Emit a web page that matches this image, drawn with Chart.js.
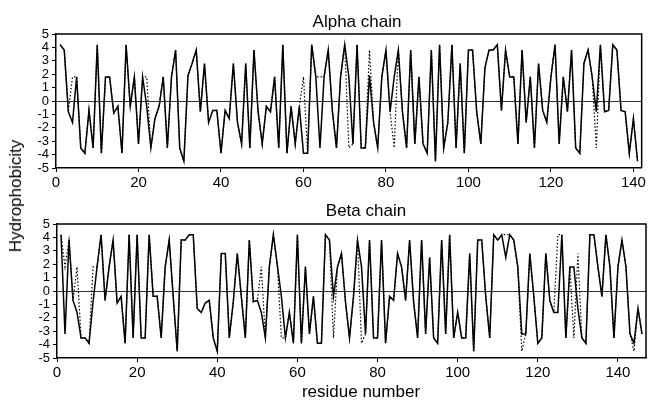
<!DOCTYPE html>
<html>
<head>
<meta charset="utf-8">
<script src="https://cdn.jsdelivr.net/npm/chart.js@4/dist/chart.umd.min.js"></script>
<style>
  html, body { margin: 0; padding: 0; background: #fff; }
  #wrap { position: relative; width: 648px; height: 402px; overflow: hidden; font-family: "Liberation Sans", Arial, sans-serif; color: #000; }
  canvas { position: absolute; left: 0; }
  .lbl { position: absolute; font-size: 17px; white-space: nowrap; transform: translate(-50%, -50%); }
  #ytitle { transform: translate(-50%, -50%) rotate(-90deg); }
</style>
</head>
<body>
<div id="wrap">
  <canvas id="alphaChart" width="648" height="195" style="top:0"></canvas>
  <canvas id="betaChart" width="648" height="207" style="top:195px"></canvas>
  <div class="lbl" style="left:357px; top:22px">Alpha chain</div>
  <div class="lbl" style="left:366px; top:211px">Beta chain</div>
  <div class="lbl" id="ytitle" style="left:16px; top:196px">Hydrophobicity</div>
  <div class="lbl" style="left:361px; top:392px">residue number</div>
</div>
<script>
'use strict';

// hydrophobicity per residue (solid line)
const ALPHA_SOLID = [
  4.2, 3.8, -0.8, -1.6, 1.8, -3.5, -3.9, -0.7, -3.5, 4.2,
  -3.9, 1.8, 1.8, -0.9, -0.4, -3.9, 4.2, -0.4, 1.8, -3.2,
  1.8, -0.4, -3.5, -1.3, -0.4, 1.8, -3.5, 1.8, 3.8, -3.5,
  -4.5, 1.9, 2.8, 3.8, -0.8, 2.8, -1.6, -0.7, -0.7, -3.9,
  -0.7, -1.3, 2.8, -1.6, -3.2, 2.8, -3.5, 3.8, -0.8, -3.2,
  -0.4, -0.8, 1.8, -3.5, 4.2, -3.9, -0.4, -3.2, -0.4, -3.9,
  -3.9, 4.2, 1.8, -3.5, 1.8, 3.8, -0.7, -3.5, 1.8, 4.2,
  1.8, -3.2, 4.2, -3.5, -3.5, 1.9, -1.6, -3.5, 1.8, 3.8,
  -0.8, 1.8, 3.8, -0.8, -3.5, 3.8, -3.2, 1.8, -3.2, -3.9,
  3.8, -4.5, 4.2, -3.5, -1.6, 4.2, -3.5, 2.8, -3.9, 3.8,
  3.8, -0.8, -3.2, 2.5, 3.8, 3.8, 4.2, -0.7, 3.8, 1.8,
  1.8, -3.2, 3.8, -1.6, 1.8, -3.5, 2.8, -0.7, -1.6, 1.8,
  4.2, -3.2, 1.8, -0.8, 3.8, -3.5, -3.9, 2.8, 3.8, 1.8,
  -0.8, 4.2, -0.8, -0.7, 4.2, 3.8, -0.7, -0.8, -3.9, -1.3,
  -4.5
];

const BETA_SOLID = [
  4.2, -3.2, 3.8, -0.7, -1.6, -3.5, -3.5, -3.9, -0.8, 1.8,
  4.2, -0.7, 1.8, 3.8, -0.9, -0.4, -3.9, 4.2, -3.5, 4.2,
  -3.5, -3.5, 4.2, -0.4, -0.4, -3.5, 1.8, 3.8, -0.4, -4.5,
  3.8, 3.8, 4.2, 4.2, -1.3, -1.6, -0.9, -0.7, -3.5, -4.5,
  2.8, 2.8, -3.5, -0.8, 2.8, -0.4, -3.5, 3.8, -0.8, -0.7,
  -1.6, -3.5, 1.8, 4.2, 1.9, -0.4, -3.5, -1.6, -3.9, 4.2,
  -3.9, 1.8, -3.2, -0.4, -3.9, -3.9, 4.2, 3.8, -0.4, 1.8,
  2.8, -0.8, -3.5, -0.4, 3.8, 1.8, -3.2, 3.8, -3.5, -3.5,
  3.8, -3.9, -0.4, -0.7, 2.8, 1.8, -0.7, 3.8, -0.8, -3.5,
  3.8, -3.2, 2.5, -3.5, -3.9, 3.8, -3.2, 4.2, -3.5, -1.6,
  -3.5, -3.5, 2.8, -4.5, 3.8, 3.8, -0.4, -3.5, 4.2, 3.8,
  4.2, 2.5, 4.2, 3.8, 1.8, -3.2, -3.2, 2.8, -0.4, -3.9,
  -3.5, 2.8, -0.7, -1.6, -1.6, 4.2, -3.5, 1.8, 1.8, -1.3,
  -3.5, -3.9, 4.2, 4.2, 1.8, -0.4, 4.2, 1.8, -3.5, 1.8,
  3.8, 1.8, -3.2, -3.9, -1.3, -3.2
];

// residues where the dotted line differs, and its values there
const ALPHA_DIFF_POS = [4, 22, 60, 64, 71, 76, 82, 131];
const ALPHA_DIFF_VAL = [1.8, 1.8, 1.8, 1.8, -3.5, 3.8, -3.5, -3.5];
const BETA_DIFF_POS = [2, 5, 9, 51, 56, 69, 76, 112, 116, 125, 129, 130, 144];
const BETA_DIFF_VAL = [1.8, 1.8, 1.8, 1.8, -3.5, -3.5, -3.9, 4.2, -4.5, 4.2, -3.5, 2.8, -4.5];

const X_TICKS = [0, 20, 40, 60, 80, 100, 120, 140];
const Y_TICKS = [5, 4, 3, 2, 1, 0, -1, -2, -3, -4, -5];

const FONT = '"Liberation Sans", Arial, sans-serif';

function toPoints(vals) {
  return vals.map((v, i) => ({ x: i + 1, y: v }));
}

function withDiffs(vals, pos, diff) {
  const out = vals.slice();
  pos.forEach((p, i) => { out[p - 1] = diff[i]; });
  return out;
}

/* top and right edges of the plot box */
const frame = {
  id: 'frame',
  afterDraw(chart) {
    const a = chart.chartArea;
    const ctx = chart.ctx;
    ctx.save();
    ctx.strokeStyle = '#000';
    ctx.lineWidth = 1.5;
    ctx.beginPath();
    ctx.moveTo(a.left, a.top);
    ctx.lineTo(a.right, a.top);
    ctx.lineTo(a.right, a.bottom);
    ctx.stroke();
    ctx.restore();
  }
};

function makeChart(id, solid, pos, diff, opt) {
  return new Chart(document.getElementById(id), {
    type: 'line',
    data: {
      datasets: [
        { data: toPoints(solid), borderColor: '#000', borderWidth: 1.5 },
        { data: toPoints(withDiffs(solid, pos, diff)), borderColor: '#000', borderWidth: 1.2, borderDash: [1.5, 2] },
      ],
    },
    options: {
      responsive: false,
      animation: false,
      devicePixelRatio: 1,
      layout: { padding: { top: opt.top, right: opt.right, left: 0, bottom: 0 } },
      elements: { point: { radius: 0 }, line: { tension: 0 } },
      plugins: { legend: { display: false }, tooltip: { enabled: false } },
      scales: {
        x: {
          type: 'linear', min: 0, max: opt.xmax,
          afterFit: s => { s.height = opt.xh; },
          afterBuildTicks: s => { s.ticks = X_TICKS.map(v => ({ value: v })); },
          grid: { drawOnChartArea: false, tickLength: 4, tickColor: '#000' },
          border: { color: '#000', width: 1.5 },
          ticks: { color: '#000', padding: 2, maxRotation: 0, autoSkip: false, font: { family: FONT, size: 15 } },
        },
        y: {
          min: -5, max: 5,
          afterFit: s => { s.width = opt.yw; },
          afterBuildTicks: s => { s.ticks = Y_TICKS.map(v => ({ value: v })); },
          grid: {
            color: c => (c.tick && c.tick.value === 0 ? '#333' : 'rgba(0,0,0,0)'),
            lineWidth: 1, tickLength: 4, tickColor: '#000',
          },
          border: { color: '#000', width: 1.5 },
          ticks: { color: '#000', padding: 3, autoSkip: false, font: { family: FONT, size: 13 } },
        },
      },
    },
    plugins: [frame],
  });
}

makeChart('alphaChart', ALPHA_SOLID, ALPHA_DIFF_POS, ALPHA_DIFF_VAL,
  { top: 34, right: 5, xmax: 142, xh: 27, yw: 56 });
makeChart('betaChart', BETA_SOLID, BETA_DIFF_POS, BETA_DIFF_VAL,
  { top: 29, right: 2, xmax: 147, xh: 44, yw: 57 });
</script>
</body>
</html>
